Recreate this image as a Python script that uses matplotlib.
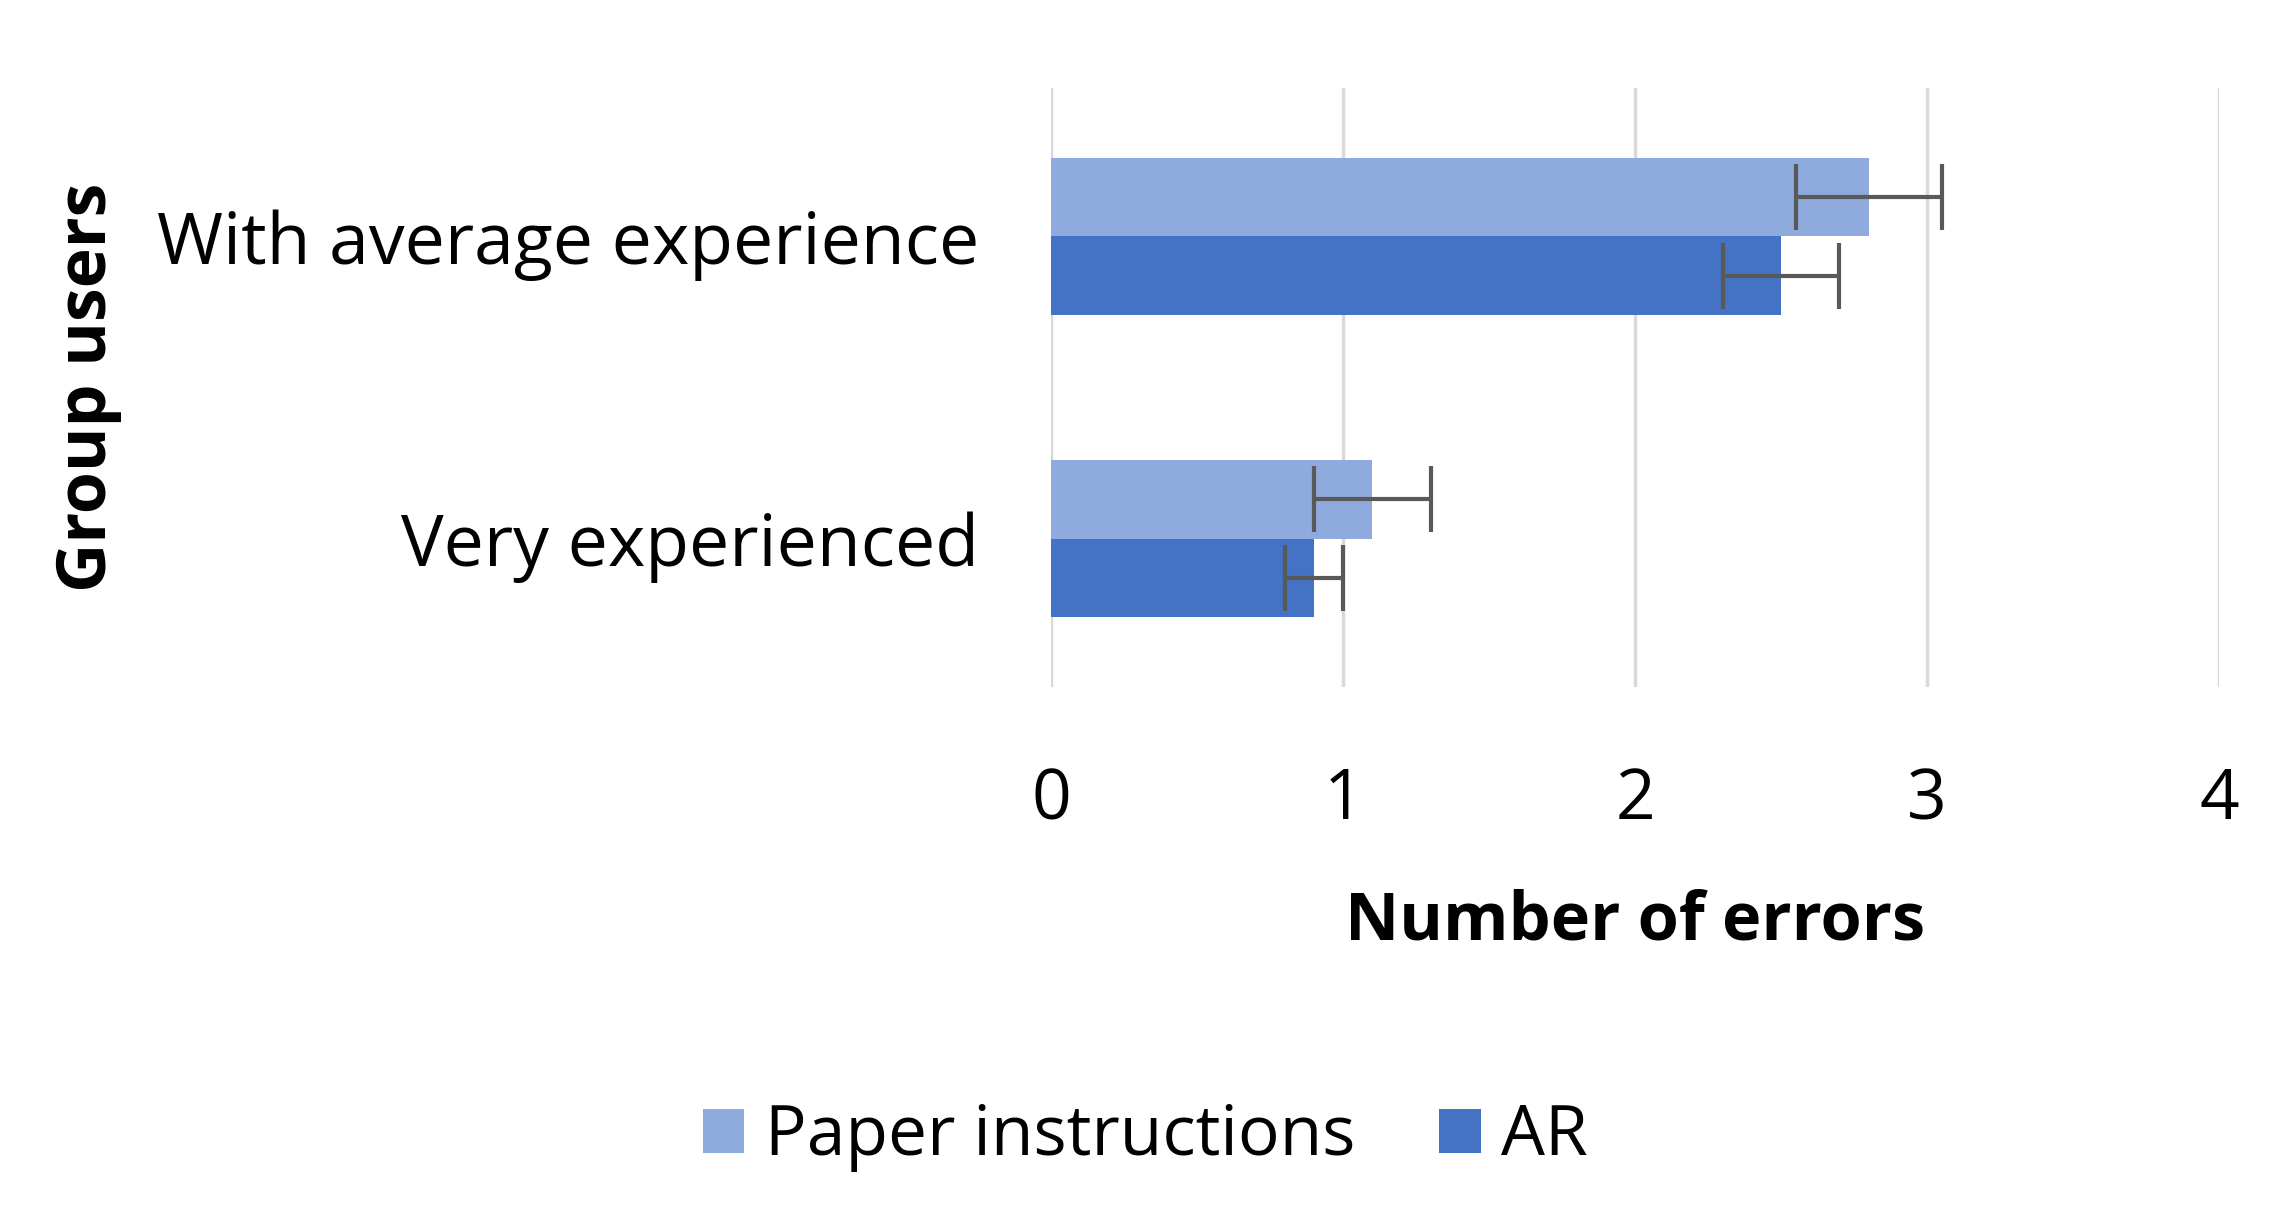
import matplotlib
matplotlib.use("Agg")
import matplotlib.pyplot as plt
import numpy as np

categories = ["Very experienced", "With average experience"]
series_names = ["Paper instructions", "AR"]
paper_vals = [1.1, 2.8]
paper_err = [0.2, 0.25]
ar_vals = [0.9, 2.5]
ar_err = [0.1, 0.2]
xticks = [0, 1, 2, 3, 4]

colors = ["#8FAADC", "#4472C4"]
font = ["Open Sans", "DejaVu Sans"]
plt.rcParams['font.family'] = font

fig = plt.figure(figsize=(22.91, 12.11), dpi=100)
ax = fig.add_axes([0.4588, 0.4327, 0.5098, 0.4946])

y = np.arange(len(categories))
h = 0.26
ekw = dict(ecolor="#595959", elinewidth=3, capsize=24, capthick=3)
ax.barh(y + h / 2, paper_vals, height=h, color=colors[0], xerr=paper_err,
        error_kw=ekw, label=series_names[0], zorder=3)
ax.barh(y - h / 2, ar_vals, height=h, color=colors[1], xerr=ar_err,
        error_kw=ekw, label=series_names[1], zorder=3)

ax.set_xlim(0, 4)
ax.set_ylim(-0.49, 1.49)
ax.set_xticks(xticks)
ax.set_xticklabels([str(t) for t in xticks])
ax.set_yticks(y)
ax.set_yticklabels(categories)
ax.tick_params(axis='both', length=0, labelsize=50, colors="#000000")
ax.tick_params(axis='y', labelsize=51.5)
ax.tick_params(axis='x', pad=57)
ax.tick_params(axis='y', pad=52)
ax.grid(axis='x', color="#D9D9D9", linewidth=2.5, zorder=0)
for s in ax.spines.values():
    s.set_visible(False)

ax.set_xlabel("Number of errors", fontsize=48, fontweight='bold', labelpad=38)
fig.text(0.0385, 0.68, "Group users", rotation=90, fontsize=49, fontweight='bold',
         ha='center', va='center')

handles, labels = ax.get_legend_handles_labels()
fig.legend(handles, labels, loc='center', bbox_to_anchor=(0.5, 0.061), ncol=2,
           frameon=False, fontsize=50, handlelength=0.6, handleheight=0.6,
           columnspacing=1.2, handletextpad=0.3)

fig.savefig("out.png", dpi=100, facecolor="white")
